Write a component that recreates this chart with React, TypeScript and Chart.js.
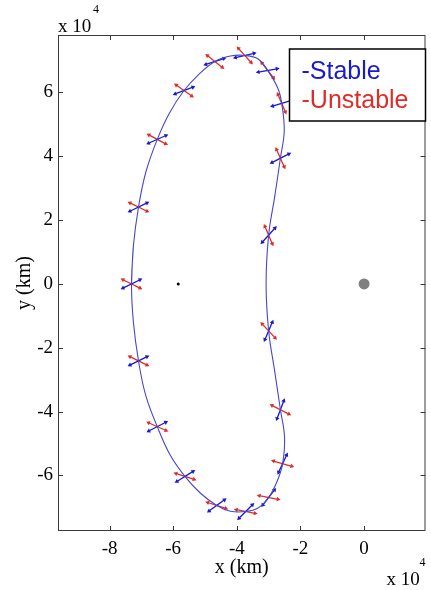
import React, { useEffect, useRef } from "react";
import { Chart, registerables } from "chart.js";

Chart.register(...registerables);

// Orbit (units of 1e4 km), going round the loop
const orbitX = [
  -7.31, -7.25, -7.09, -6.86, -6.5, -6.12, -5.66, -5.2, -4.69, -4.2, -3.75, -3.33, -3.03, -2.71,
  -2.59, -2.51, -2.63, -2.81, -3.0, -3.08, -3.0, -2.81, -2.63, -2.5, -2.56, -2.72, -3.0, -3.35,
  -3.72, -4.2, -4.63, -5.15, -5.63, -6.1, -6.5, -6.86, -7.09, -7.25,
];
const orbitY = [
  0, 1.2, 2.41, 3.5, 4.53, 5.35, 6.06, 6.56, 6.97, 7.14, 7.16, 7.05, 6.69, 6.13,
  5.66, 4.8, 3.94, 2.73, 1.53, 0, -1.47, -2.73, -3.94, -4.8, -5.63, -6.15, -6.69, -7.03,
  -7.13, -7.12, -6.94, -6.55, -6.03, -5.35, -4.47, -3.5, -2.41, -1.2,
];

// Points where the stable / unstable directions are drawn
const crossX = [
  -2.59, -2.63, -3.0, -3.0, -2.63, -2.56, -3.0, -3.72, -4.63, -5.63,
  -6.5, -7.09, -7.31, -7.09, -6.5, -5.66, -4.69, -3.75, -3.03,
];
const crossY = [
  5.66, 3.94, 1.53, -1.47, -3.94, -5.63, -6.69, -7.13, -6.94, -6.03,
  -4.47, -2.41, 0, 2.41, 4.53, 6.06, 6.97, 7.16, 6.69,
];
// direction angles (degrees, in data space)
const stableDeg = [17, 27, 48, 67, 69, 65, 52, 45, 36, 32, 27, 26, 26, 26, 24, 21, 18, 13, 10];
const unstableDeg = [-67, -66, -67, -47, -27, -16, -11, -11, -18, -18, -24, -26, -26, -26, -28, -35, -38, -48, -52];

const smallBodyX = [-5.84];
const smallBodyY = [0];
const largeBodyX = [0];
const largeBodyY = [0];

const xTickValues = [-8, -6, -4, -2, 0];
const yTickValues = [-6, -4, -2, 0, 2, 4, 6];
const xRange = [-9.62, 1.93];
const yRange = [-7.74, 7.8];
const legendLabels = ["-Stable", "-Unstable"];

const BLUE = "rgb(25,25,205)";
const RED = "rgb(222,45,40)";
const ORBIT = "rgb(70,70,210)";
const AXIS = "#3a3a3a";
const SERIF = "'Liberation Serif', 'Times New Roman', serif";
const SANS = "'Liberation Sans', Arial, sans-serif";
const ARM = 0.3;

const framePlugin = {
  id: "frame",
  afterDraw(chart: any) {
    const { ctx, chartArea } = chart;
    const { left, top, right, bottom } = chartArea;
    const xs = chart.scales.x;
    const ys = chart.scales.y;
    ctx.save();
    ctx.strokeStyle = AXIS;
    ctx.lineWidth = 1;
    ctx.strokeRect(left + 0.5, top + 0.5, right - left - 1, bottom - top - 1);
    ctx.beginPath();
    xTickValues.forEach((v) => {
      const px = Math.round(xs.getPixelForValue(v)) + 0.5;
      ctx.moveTo(px, bottom);
      ctx.lineTo(px, bottom - 5);
      ctx.moveTo(px, top);
      ctx.lineTo(px, top + 5);
    });
    yTickValues.forEach((v) => {
      const py = Math.round(ys.getPixelForValue(v)) + 0.5;
      ctx.moveTo(left, py);
      ctx.lineTo(left + 5, py);
      ctx.moveTo(right, py);
      ctx.lineTo(right - 5, py);
    });
    ctx.stroke();

    // legend
    const w = 136;
    const h = 72;
    const x0 = right - w;
    const y0 = top + 14;
    ctx.fillStyle = "#fff";
    ctx.fillRect(x0, y0, w, h);
    ctx.strokeStyle = "#000";
    ctx.lineWidth = 1.5;
    ctx.strokeRect(x0, y0, w, h);
    ctx.font = `25px ${SANS}`;
    ctx.textAlign = "left";
    ctx.textBaseline = "alphabetic";
    ctx.fillStyle = BLUE;
    ctx.fillText(legendLabels[0], x0 + 12, y0 + 30);
    ctx.fillStyle = RED;
    ctx.fillText(legendLabels[1], x0 + 12, y0 + 59);

    // exponent labels
    ctx.fillStyle = "#000";
    ctx.font = `19px ${SERIF}`;
    ctx.fillText("x 10", left, 32);
    ctx.fillText("x 10", right - 39, 585);
    ctx.font = `12px ${SERIF}`;
    ctx.fillText("4", left + 35, 13);
    ctx.fillText("4", right - 6, 566);
    ctx.restore();
  },
};

export default function App() {
  const ref = useRef<HTMLCanvasElement | null>(null);

  useEffect(() => {
    if (!ref.current) return;
    const orbit = orbitX.map((x, i) => ({ x, y: orbitY[i] }));
    orbit.push(orbit[0], orbit[1]);

    const segs: any[] = [];
    crossX.forEach((cx, i) => {
      const cy = crossY[i];
      const pairs: [number, string][] = [
        [stableDeg[i], BLUE],
        [unstableDeg[i], RED],
      ];
      pairs.forEach(([deg, color]) => {
        const a = (deg * Math.PI) / 180;
        const dx = Math.cos(a) * ARM;
        const dy = Math.sin(a) * ARM;
        segs.push({
          data: [
            { x: cx - dx, y: cy - dy },
            { x: cx + dx, y: cy + dy },
          ],
          showLine: true,
          borderColor: color,
          backgroundColor: color,
          borderWidth: 1.3,
          pointStyle: "triangle",
          pointRadius: 2.6,
          pointBorderWidth: 0,
          pointRotation: [270 - deg, 90 - deg],
          tension: 0,
        });
      });
    });

    const chart = new Chart(ref.current, {
      type: "scatter",
      data: {
        datasets: [
          {
            data: orbit,
            showLine: true,
            tension: 0.4,
            borderColor: ORBIT,
            borderWidth: 1.1,
            pointRadius: 0,
          },
          ...segs,
          {
            data: smallBodyX.map((x, i) => ({ x, y: smallBodyY[i] })),
            pointRadius: 1.5,
            backgroundColor: "#000",
            borderWidth: 0,
          },
          {
            data: largeBodyX.map((x, i) => ({ x, y: largeBodyY[i] })),
            pointRadius: 5.5,
            backgroundColor: "#808080",
            borderWidth: 0,
          },
        ],
      },
      options: {
        responsive: false,
        animation: false,
        devicePixelRatio: 1,
        layout: { padding: { left: 0, right: 2, top: 35, bottom: 0 } },
        plugins: { legend: { display: false }, tooltip: { enabled: false } },
        scales: {
          x: {
            type: "linear",
            min: xRange[0],
            max: xRange[1],
            grid: { display: false, drawTicks: false },
            border: { display: false },
            afterBuildTicks: (s: any) => {
              s.ticks = xTickValues.map((value) => ({ value }));
            },
            afterFit: (s: any) => {
              s.height = 59;
            },
            ticks: {
              padding: 7,
              color: "#000",
              font: { family: SERIF, size: 19 },
              maxRotation: 0,
              autoSkip: false,
            },
            title: {
              display: true,
              text: "x (km)",
              color: "#000",
              font: { family: SERIF, size: 20 },
              padding: { top: 0, bottom: 10 },
            },
          },
          y: {
            type: "linear",
            min: yRange[0],
            max: yRange[1],
            grid: { display: false, drawTicks: false },
            border: { display: false },
            afterBuildTicks: (s: any) => {
              s.ticks = yTickValues.map((value) => ({ value }));
            },
            afterFit: (s: any) => {
              s.width = 58;
            },
            ticks: {
              padding: 5,
              color: "#000",
              font: { family: SERIF, size: 19 },
              autoSkip: false,
            },
            title: {
              display: true,
              text: "y (km)",
              color: "#000",
              font: { family: SERIF, size: 20 },
              padding: { top: 13, bottom: 0 },
            },
          },
        },
      },
      plugins: [framePlugin],
    });
    return () => chart.destroy();
  }, []);

  return (
    <div style={{ position: "absolute", left: 0, top: 0, width: 431, height: 590, background: "#fff" }}>
      <canvas ref={ref} width={431} height={590} style={{ display: "block" }} />
    </div>
  );
}
